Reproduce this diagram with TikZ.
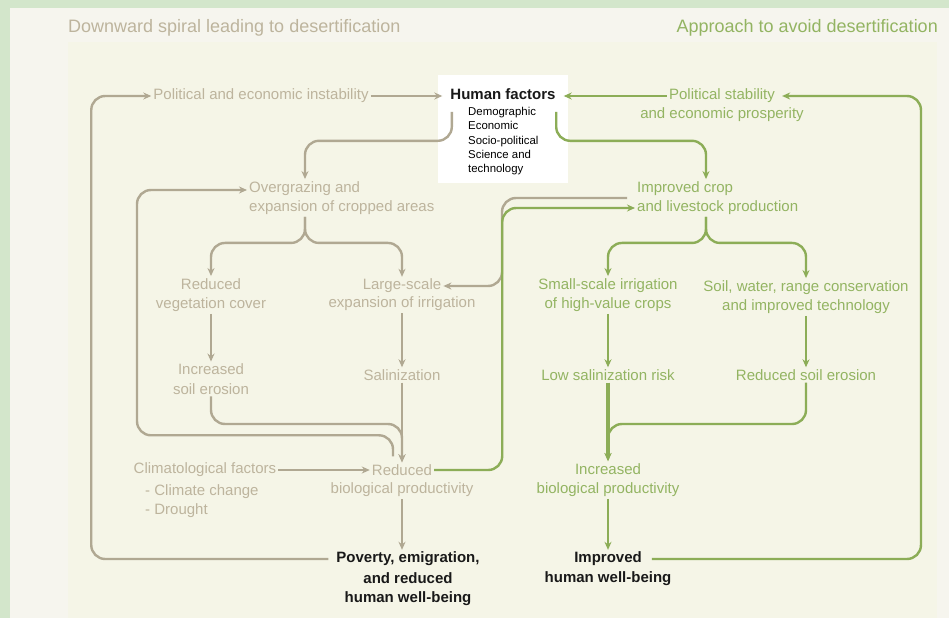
\documentclass[tikz,border=0pt]{standalone}
\usepackage{fontspec}
\setmainfont{Liberation Sans}
\usetikzlibrary{arrows.meta}
\definecolor{tanl}{HTML}{B0A892}
\definecolor{tant}{HTML}{BDB49D}
\definecolor{grnl}{HTML}{8CAD57}
\definecolor{grnt}{HTML}{93B462}
\definecolor{bgout}{HTML}{D3E6CB}
\definecolor{bgin}{HTML}{F6F5EE}
\definecolor{bgpanel}{HTML}{F5F5E7}
\begin{document}
\begin{tikzpicture}[x=1pt,y=-1pt,>={Stealth[length=8pt,width=7pt]},
    txt/.style={font=\fontsize{15}{19.5}\selectfont,align=center,inner sep=2pt},
    tantxt/.style={txt,text=tant},
    grntxt/.style={txt,text=grnt},
    boldtxt/.style={txt,font=\fontsize{15}{19.5}\selectfont\bfseries,text=black!90},
    tanline/.style={draw=tanl,line width=2.4pt,rounded corners=14pt},
    grnline/.style={draw=grnl,line width=2.4pt,rounded corners=14pt}]
\fill[bgout](0,0) rectangle (949,618);
\fill[bgin](10,8) rectangle (949,618);
\fill[bgpanel](68,42) rectangle (937,618);
\useasboundingbox (0,0) rectangle (949,618);
\node[tantxt,font=\fontsize{18}{22}\selectfont,anchor=west] (ttl) at (66,28) {Downward spiral leading to desertification};
\node[grntxt,font=\fontsize{18}{22}\selectfont,anchor=east] (ttr) at (940,28) {Approach to avoid desertification};
% human factors box
\node[fill=white,minimum width=130pt,minimum height=108pt,inner sep=0] (hf) at (503,129) {};
\node[boldtxt,inner xsep=8pt] (hft) at (503,94) {Human factors};
\node[font=\fontsize{11.4}{14.3}\selectfont,align=left,anchor=north west,inner sep=0] (hfl) at (468,107) {Demographic\\Economic\\Socio-political\\Science and\\technology};
% downward spiral
\node[tantxt] (instab) at (261,96) {Political and economic instability};
\node[tantxt,align=left,anchor=west] (over) at (247,198) {Overgrazing and\\expansion of cropped areas};
\node[tantxt] (veg) at (211,295) {Reduced\\vegetation cover};
\node[tantxt] (irr) at (402,286) {Large-scale};
\node[tantxt] (irrb) at (402,304) {expansion of irrigation};
\node[tantxt] (eros) at (211,379) {Increased\\soil erosion};
\node[tantxt] (sal) at (402,375) {Salinization};
\node[tantxt] (clim) at (205,470) {Climatological factors};
\node[tantxt,align=left,anchor=west] (climl) at (143,501) {- Climate change\\- Drought};
\node[tantxt] (red) at (402,470) {Reduced};
\node[tantxt] (redb) at (402,490) {biological productivity};
\node[boldtxt] (pov) at (408,559) {Poverty, emigration,};
\node[boldtxt] (povb) at (408,589) {and reduced\\human well-being};
% approach
\node[grntxt] (stab) at (722,96) {Political stability};
\node[grntxt] (stabb) at (722,115) {and economic prosperity};
\node[grntxt,align=left,anchor=west] (crop) at (635,198) {Improved crop\\and livestock production};
\node[grntxt] (small) at (608,295) {Small-scale irrigation\\of high-value crops};
\node[grntxt] (cons) at (806,297) {Soil, water, range conservation\\and improved technology};
\node[grntxt] (lowsal) at (608,375) {Low salinization risk};
\node[grntxt] (rederos) at (806,375) {Reduced soil erosion};
\node[grntxt] (incbio) at (608,480) {Increased\\biological productivity};
\node[boldtxt] (impr) at (608,559) {Improved};
\node[boldtxt] (imprb) at (608,579) {human well-being};

\draw[tanline,->]([xshift=-6pt]pov.west)--++(-237,0)|-(instab.west);
\draw[tanline,->](instab.east)--(instab.east-|hft.west);
\draw[tanline,->]([shift={(14,37)}]hf.north west)--++(0,29)-|([xshift=58pt]over.north west);
\draw[tanline,->]([xshift=58pt]over.south west)--++(0,26)-|(veg);
\draw[tanline,->]([xshift=58pt]over.south west)--++(0,26)-|(irr);
\draw[tanline,->](veg)--(eros);
\draw[tanline,->](irrb)--(sal);
\draw[tanline,->](sal)--(red);
\draw[tanline,->](eros)--++(0,45)-|(red);
\draw[tanline,->]([shift={(-9,-6)}]red.north)--++(0,-21)--++(-256,0)|-([yshift=8pt]over.west);
\draw[tanline,->](clim)--(red);
\draw[tanline,->](redb)--(redb|-pov.north);
\draw[tanline,->]([xshift=-8pt]crop.west)--++(-125,0)|-(irr);
\draw[grnline,->](red.east)--++(68,0)|-([yshift=-10pt]crop.west);
\draw[grnline,->]([shift={(-12,37)}]hf.north east)--++(0,29)-|([xshift=71pt]crop.north west);
\draw[grnline,->](stab.west)--(stab.west-|hft.east);
\draw[grnline,->]([xshift=8pt]impr.east)--++(269,0)|-([xshift=5pt]stab.east);
\draw[grnline,->]([xshift=71pt]crop.south west)--++(0,26)-|(small);
\draw[grnline,->]([xshift=71pt]crop.south west)--++(0,26)-|(cons);
\draw[grnline,->](small)--(lowsal);
\draw[grnline,->](cons)--(rederos);
\draw[grnline,line width=3.4pt,->](lowsal)--(incbio);
\draw[grnline,->](rederos)--++(0,49)-|(incbio);
\draw[grnline,->](incbio)--(impr);
\end{tikzpicture}
\end{document}
